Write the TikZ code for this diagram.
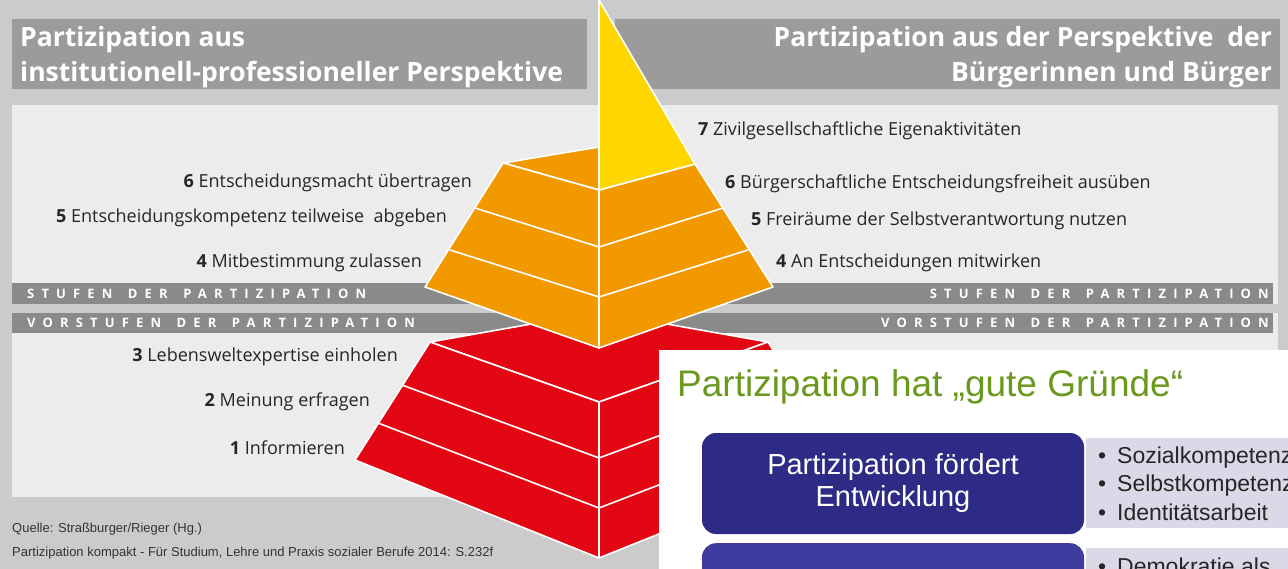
\documentclass[tikz,border=0pt]{standalone}
\usepackage{fontspec}
\setmainfont{Open Sans}
\newfontfamily\arialfont{Liberation Sans}
\newfontfamily\spacedfont[LetterSpace=55]{Open Sans}
\usetikzlibrary{positioning}
\definecolor{bggray}{RGB}{203, 203, 203}
\definecolor{panelgray}{RGB}{236, 236, 236}
\definecolor{titlegray}{RGB}{155, 155, 155}
\definecolor{bargray}{RGB}{138, 138, 138}
\definecolor{pyryellow}{RGB}{255, 214, 0}
\definecolor{pyrorange}{RGB}{243, 153, 0}
\definecolor{pyrred}{RGB}{227, 6, 19}
\definecolor{slidegreen}{RGB}{106, 153, 30}
\definecolor{slideblue}{RGB}{46, 43, 134}
\definecolor{slideblueb}{RGB}{62, 60, 158}
\definecolor{lavender}{RGB}{217, 217, 231}

\begin{document}
\begin{tikzpicture}[x=1pt, y=-1pt]

\tikzstyle{face} = [draw=white, line width=1.6pt, line join=round]
\tikzstyle{seam} = [white, line width=1.6pt]
\tikzstyle{stufe} = [inner sep=0pt, text=black!85, font=\fontsize{18}{22}\selectfont]
\tikzstyle{head} = [inner sep=0pt, text=white, font=\fontsize{26.5}{30}\selectfont\bfseries]
\tikzstyle{bartext} = [inner sep=0pt, text=white, font=\spacedfont\fontsize{13}{15}\selectfont\bfseries]
\tikzstyle{quelle} = [inner sep=0pt, text=black!80, font=\arialfont\fontsize{13}{15}\selectfont]
\tikzstyle{bluebox} = [fill=slideblue, rounded corners=14pt, minimum width=382pt, minimum height=101pt,
  text=white, align=center, font=\arialfont\fontsize{29}{32}\selectfont]
\tikzstyle{bullets} = [inner sep=0pt, align=left, text=black!85, font=\arialfont\fontsize{23}{28.5}\selectfont]

\useasboundingbox (0,0) rectangle (1288,569);
\clip (0,0) rectangle (1288,569);

% background, panel and bars
\fill[bggray] (0,0) rectangle (1288,569);
\fill[panelgray] (12,105) rectangle (1278,497);
\fill[titlegray] (12,19) rectangle (587,89);
\fill[titlegray] (615,19) rectangle (1280,89);
\fill[bargray] (12,283) rectangle (1273,304);
\fill[bggray] (12,304) rectangle (1278,313);
\fill[bargray] (12,313) rectangle (1273,333);

\node[head, anchor=base west] (headL1) at (20,47) {Partizipation aus};
\node[head, anchor=base west] (headL2) at (20,82) {institutionell-professioneller Perspektive};
\node[head, anchor=base east] (headR1) at (1272,47) {Partizipation aus der Perspektive\ \ der};
\node[head, anchor=base east] (headR2) at (1272,82) {Bürgerinnen und Bürger};

\node[bartext, anchor=base west] (stufenL) at (27,298.5) {STUFEN\hspace{5pt} DER\hspace{5pt} PARTIZIPATION};
\node[bartext, anchor=base east] (stufenR) at (1269,298.5) {STUFEN\hspace{5pt} DER\hspace{5pt} PARTIZIPATION};
\node[bartext, anchor=base west] (vorL) at (27,328) {VORSTUFEN\hspace{5pt} DER\hspace{5pt} PARTIZIPATION};
\node[bartext, anchor=base east] (vorR) at (1269,328) {VORSTUFEN\hspace{5pt} DER\hspace{5pt} PARTIZIPATION};

% pyramid: red base
\coordinate (rL) at (430,342);
\coordinate (rB) at (599,312);
\coordinate (rR) at (768,342);
\coordinate (rF) at (599,402);
\coordinate (rBL) at (355,460);
\coordinate (rBR) at (843,460);
\coordinate (rBot) at (599,558);
\filldraw[face, fill=pyrred] (rL) -- (rB) -- (rR) -- (rF) -- cycle;
\filldraw[face, fill=pyrred] (rL) -- (rF) -- (rBot) -- (rBL) -- cycle;
\filldraw[face, fill=pyrred] (rF) -- (rR) -- (rBR) -- (rBot) -- cycle;
\foreach \yl/\xl/\ym in {385/402/458, 423/378/508}{
  \draw[seam] (\xl,\yl) -- (599,\ym) -- (1198-\xl,\yl);
}

% orange middle
\coordinate (oL) at (503,163);
\coordinate (oB) at (599,147);
\coordinate (oR) at (695,164);
\coordinate (oF) at (599,190);
\coordinate (oBL) at (425,287);
\coordinate (oBR) at (773,287);
\coordinate (oBot) at (599,348);
\filldraw[face, fill=pyrorange] (oL) -- (oB) -- (oR) -- (oF) -- cycle;
\filldraw[face, fill=pyrorange] (oL) -- (oF) -- (oBot) -- (oBL) -- cycle;
\filldraw[face, fill=pyrorange] (oF) -- (oR) -- (oBR) -- (oBot) -- cycle;
\foreach \yl/\xl/\ym in {208/475/247, 250/450/297}{
  \draw[seam] (\xl,\yl) -- (599,\ym) -- (1198-\xl,\yl);
}

% yellow tip
\coordinate (yTop) at (599,0);
\filldraw[face, fill=pyryellow] (yTop) -- (oR) -- (oF) -- cycle;

% steps
\foreach \n/\t/\x/\y in {6/Entscheidungsmacht übertragen/472/188,
  5/Entscheidungskompetenz teilweise\ \ abgeben/447/223,
  4/Mitbestimmung zulassen/422/268,
  3/Lebensweltexpertise einholen/398/361,
  2/Meinung erfragen/370/406,
  1/Informieren/345/454}{
  \node[stufe, anchor=base east] (inst\n) at (\x,\y) {\textbf{\n} \t};
}
\foreach \n/\t/\x/\y in {7/Zivilgesellschaftliche Eigenaktivitäten/698/136,
  6/Bürgerschaftliche Entscheidungsfreiheit ausüben/725/189,
  5/Freiräume der Selbstverantwortung nutzen/751/226,
  4/An Entscheidungen mitwirken/776/268}{
  \node[stufe, anchor=base west] (buerger\n) at (\x,\y) {\textbf{\n} \t};
}

\node[quelle, anchor=base west] (quelle1) at (12,532) {Quelle: Straßburger/Rieger (Hg.)};
\node[quelle, anchor=base west] (quelle2) at (12,556) {Partizipation kompakt - Für Studium, Lehre und Praxis sozialer Berufe 2014: S.232f};

% slide on top
\fill[white] (659,350) rectangle (1288,569);
\node[anchor=base west, inner sep=0pt, text=slidegreen, font=\arialfont\fontsize{37}{42}\selectfont]
  (slidetitle) at (677,396) {Partizipation hat „gute Gründe“};
\node[bluebox] (foerdert) at (893,483.5) {Partizipation fördert\\Entwicklung};
\node[bluebox, fill=slideblueb, anchor=north] (staerkt) at (foerdert.south |- 0,543) {};
\fill[lavender] (1086,438) rectangle (1288,528);
\fill[lavender] (1086,548) rectangle (1288,569);
\node[bullets, anchor=base west] (kompetenz) at (1098,520)
  {\makebox[19pt][l]{\textbullet}Sozialkompetenz\\\makebox[19pt][l]{\textbullet}Selbstkompetenz\\\makebox[19pt][l]{\textbullet}Identitätsarbeit};
\node[bullets, anchor=base west] (demokratie) at (1098,574) {\makebox[19pt][l]{\textbullet}Demokratie als};

\end{tikzpicture}
\end{document}
